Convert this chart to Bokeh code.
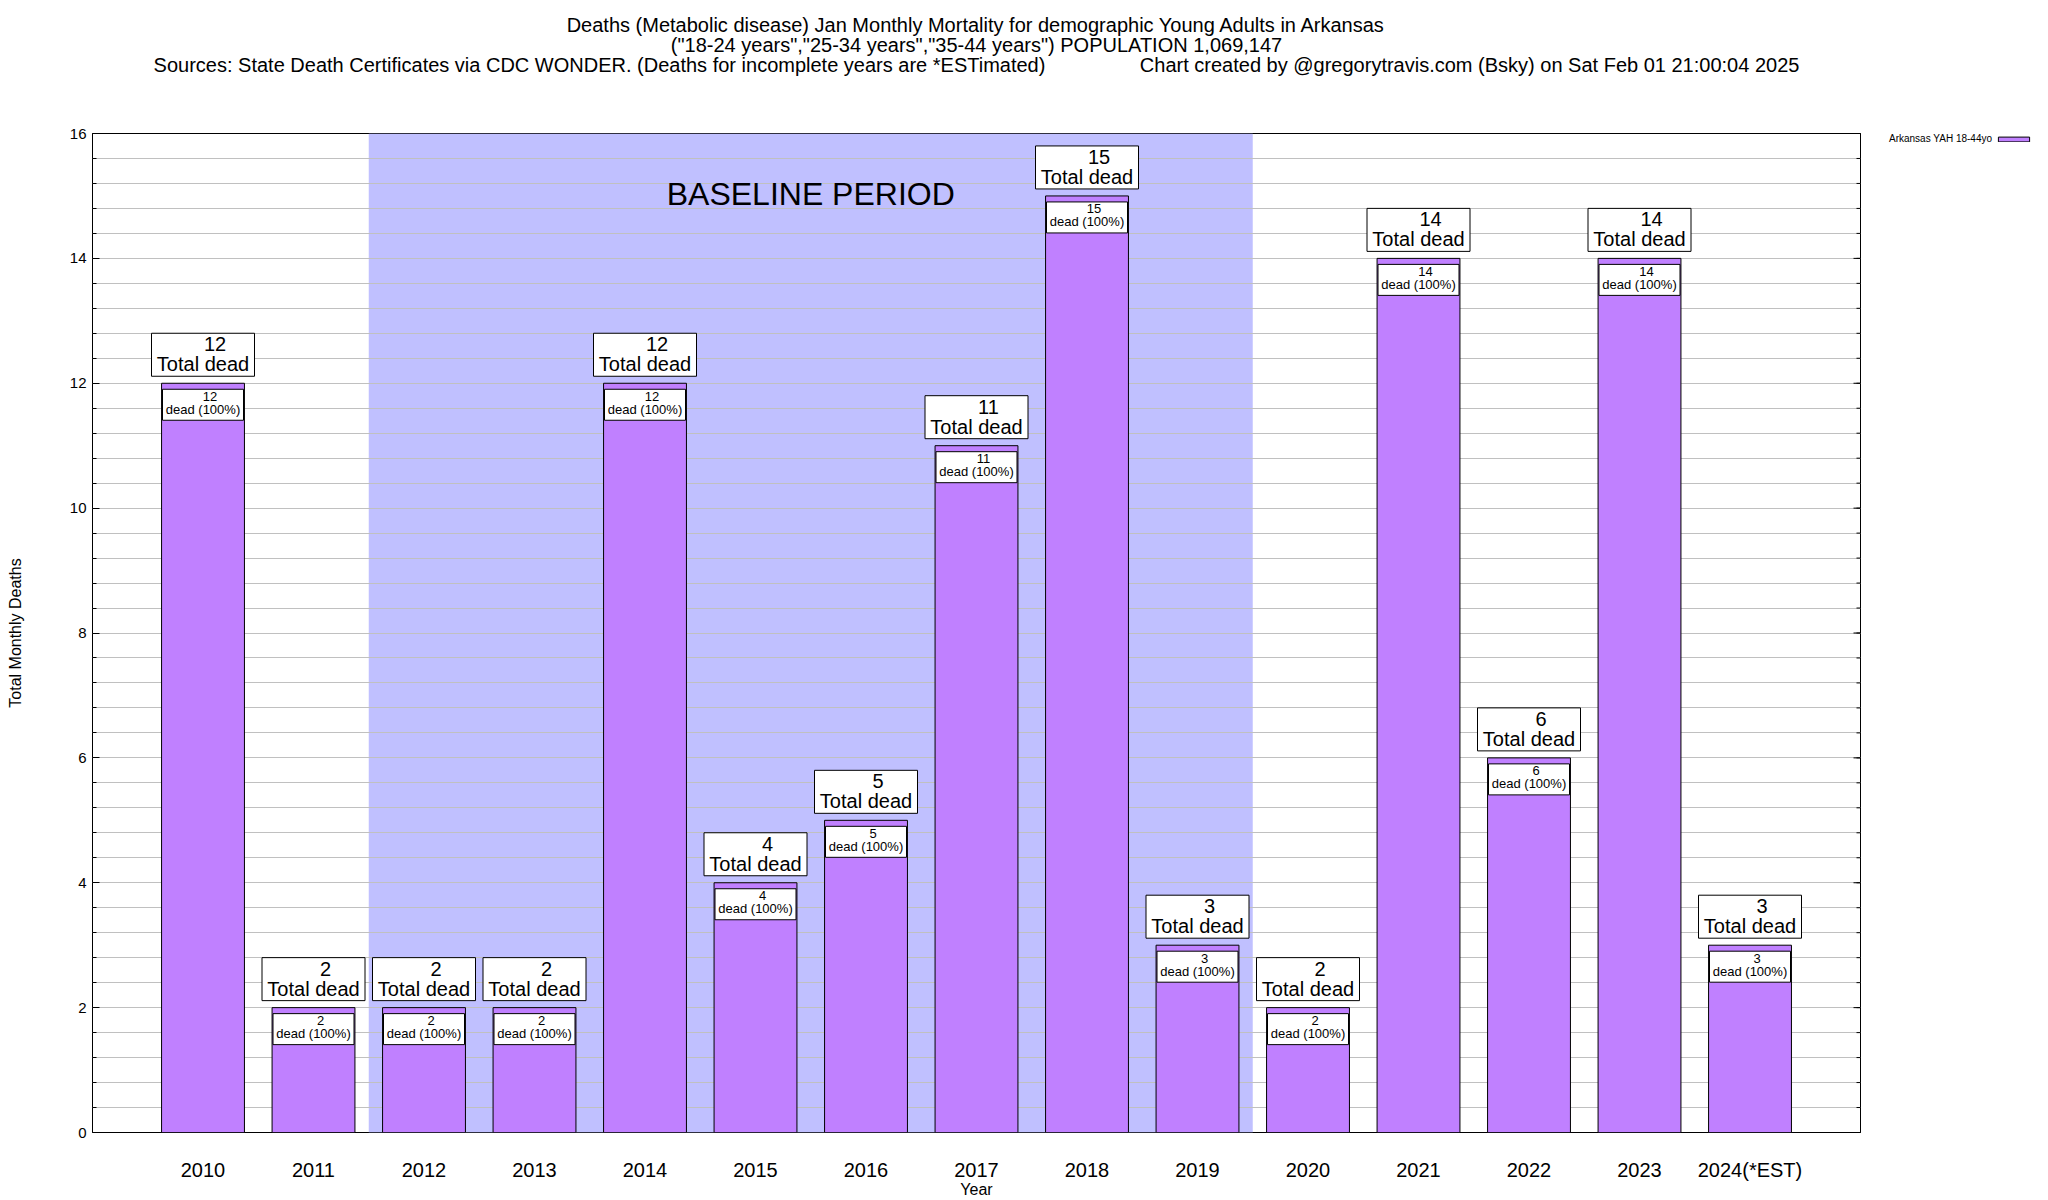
import numpy as np
from bokeh.plotting import figure
from bokeh.models import (Range1d, FixedTicker, Label, Title, Legend, LegendItem,
                          ColumnDataSource)
from bokeh.core.properties import value
from bokeh.embed import file_html
from bokeh.resources import INLINE

# ---------------- data ----------------
years = ["2010", "2011", "2012", "2013", "2014", "2015", "2016", "2017",
         "2018", "2019", "2020", "2021", "2022", "2023", "2024(*EST)"]
deaths = [12, 2, 2, 2, 12, 4, 5, 11, 15, 3, 2, 14, 6, 14, 3]
baseline_first = "2012"
baseline_last = "2019"
y_major_ticks = [0, 2, 4, 6, 8, 10, 12, 14, 16]
y_minor_step = 0.4
series_name = "Arkansas YAH 18-44yo"
title_line1 = "Deaths (Metabolic disease) Jan Monthly Mortality for demographic Young Adults in Arkansas"
title_line2 = "(\"18-24 years\",\"25-34 years\",\"35-44 years\") POPULATION 1,069,147"
title_line3a = "Sources: State Death Certificates via CDC WONDER. (Deaths for incomplete years are *ESTimated)"
title_line3b = "Chart created by @gregorytravis.com (Bsky) on Sat Feb 01 21:00:04 2025"
baseline_text = "BASELINE PERIOD"

# ---------------- layout constants ----------------
FONT = "Liberation Sans"
FW, FH = 1768, 999
X0, X1 = 0, len(years) + 1
Y0, Y1 = 0, 16
PXX = FW / (X1 - X0)
PXY = FH / (Y1 - Y0)
BAR_COLOR = "#C080FF"
SHADE_COLOR = "#C0C0FF"
GRID_COLOR = "#C0C0C0"

xs = list(range(1, len(years) + 1))
total = [sum([d]) for d in deaths]
pct = [int(round(100 * d / t)) if t else 0 for d, t in zip(deaths, total)]

p = figure(frame_width=FW, frame_height=FH,
           x_range=Range1d(X0, X1), y_range=Range1d(Y0, Y1),
           output_backend="svg", toolbar_location=None,
           min_border_left=92, min_border_top=133,
           min_border_right=180, min_border_bottom=40)
p.outline_line_color = "black"
p.outline_line_width = 1
p.background_fill_color = "white"
p.border_fill_color = "white"

# y ticker / grid
minors = [round(k * y_minor_step, 6) for k in range(int(round((Y1 - Y0) / y_minor_step)) + 1)]
yticker = FixedTicker(ticks=y_major_ticks, minor_ticks=minors)
p.yaxis.ticker = yticker
p.ygrid.ticker = yticker
p.ygrid.grid_line_color = GRID_COLOR
p.ygrid.minor_grid_line_color = GRID_COLOR
p.xgrid.visible = False

ya = p.yaxis[0]
ya.axis_line_color = None
ya.major_tick_in = 7
ya.major_tick_out = 0
ya.minor_tick_in = 4
ya.minor_tick_out = 0
ya.major_tick_line_color = "black"
ya.minor_tick_line_color = "black"
ya.major_label_standoff = 6
ya.major_label_text_font = FONT
ya.major_label_text_font_size = "15px"
ya.major_label_text_color = "black"
ya.axis_label = "Total Monthly Deaths"
ya.axis_label_text_font = FONT
ya.axis_label_text_font_size = "16px"
ya.axis_label_text_font_style = "normal"
ya.axis_label_text_color = "black"
ya.axis_label_standoff = 43

xa = p.xaxis[0]
xa.ticker = FixedTicker(ticks=xs)
xa.major_label_overrides = {x: y for x, y in zip(xs, years)}
xa.axis_line_color = None
xa.major_tick_in = 0
xa.major_tick_out = 0
xa.minor_tick_in = 0
xa.minor_tick_out = 0
xa.major_label_standoff = 26
xa.major_label_text_font = FONT
xa.major_label_text_font_size = "20px"
xa.major_label_text_color = "black"
xa.axis_label = "Year"
xa.axis_label_text_font = FONT
xa.axis_label_text_font_size = "16px"
xa.axis_label_text_font_style = "normal"
xa.axis_label_text_color = "black"
xa.axis_label_standoff = -3

# baseline shade
b_left = years.index(baseline_first) + 1 - 0.5
b_right = years.index(baseline_last) + 1 + 0.5
p.quad(left=[b_left], right=[b_right], bottom=[Y0], top=[Y1],
       fill_color=SHADE_COLOR, line_color=None, level="image")

# mirrored (inward) ticks on the right border
p.segment(x0=[X1] * len(minors), x1=[X1 - 4 / PXX] * len(minors), y0=minors, y1=minors,
          line_color="black", line_width=1, level="guide")
p.segment(x0=[X1] * len(y_major_ticks), x1=[X1 - 7 / PXX] * len(y_major_ticks),
          y0=y_major_ticks, y1=y_major_ticks, line_color="black", line_width=1, level="guide")

# bars
src = ColumnDataSource(dict(
    x=xs, top=deaths,
    ob_y=[d + 28.5 / PXY for d in deaths],
    on_y=[d + 39 / PXY for d in deaths],
    ot_y=[d + 19 / PXY for d in deaths],
    ib_y=[d - 21.5 / PXY for d in deaths],
    in_y=[d - 13 / PXY for d in deaths],
    it_y=[d - 26 / PXY for d in deaths],
    num=[str(d) for d in deaths],
    tot=["Total dead"] * len(deaths),
    dead=["dead (%d%%)" % q for q in pct],
))
bars = p.vbar(x="x", top="top", bottom=0, width=0.75, source=src,
              fill_color=BAR_COLOR, line_color="black", line_width=1)

# outer label boxes
p.rect(x="x", y="ob_y", width=103 / PXX, height=43 / PXY, source=src,
       fill_color="white", line_color="black", line_width=1)
p.text(x="x", y="on_y", text="num", source=src, x_offset=12,
       text_font=value(FONT), text_font_size="20px", text_align="center",
       text_baseline="middle", text_color="black")
p.text(x="x", y="ot_y", text="tot", source=src,
       text_font=value(FONT), text_font_size="20px", text_align="center",
       text_baseline="middle", text_color="black")

# inner label boxes
p.rect(x="x", y="ib_y", width=81 / PXX, height=31 / PXY, source=src,
       fill_color="white", line_color="black", line_width=1)
p.text(x="x", y="in_y", text="num", source=src, x_offset=7,
       text_font=value(FONT), text_font_size="13px", text_align="center",
       text_baseline="middle", text_color="black")
p.text(x="x", y="it_y", text="dead", source=src,
       text_font=value(FONT), text_font_size="13px", text_align="center",
       text_baseline="middle", text_color="black")

# baseline period label
p.add_layout(Label(x=(b_left + b_right) / 2, y=Y1 - 60 / PXY, text=baseline_text,
                   text_font=FONT, text_font_size="32px", text_align="center",
                   text_baseline="middle", text_color="black"))

# key (text first, then swatch, as in the reference)
blank = p.vbar(x=[], top=[], width=0.75, fill_alpha=0, line_alpha=0)
legend = Legend(items=[LegendItem(label=series_name, renderers=[blank]),
                       LegendItem(label="\u00a0", renderers=[bars])],
                orientation="horizontal", location=(-10, 988),
                glyph_width=39, glyph_height=6, label_height=10, label_width=0,
                label_standoff=0, spacing=2, padding=0, margin=0,
                label_text_font=FONT, label_text_font_size="10px", label_text_color="black",
                border_line_color=None, background_fill_alpha=0)
p.right = [legend]

# title block: spacer (nearest the plot) then the three lines
def mk_title(txt, standoff):
    return Title(text=txt, align="center", text_font=FONT, text_font_size="20px",
                 text_font_style="normal", text_color="black", standoff=standoff)

line3 = title_line3a + "\u00a0" * 17 + title_line3b
p.above = [mk_title("\u00a0", 36), mk_title(line3, -4), mk_title(title_line2, -4),
           mk_title(title_line1, -4)]

open("out.html", "w").write(file_html(p, INLINE))
